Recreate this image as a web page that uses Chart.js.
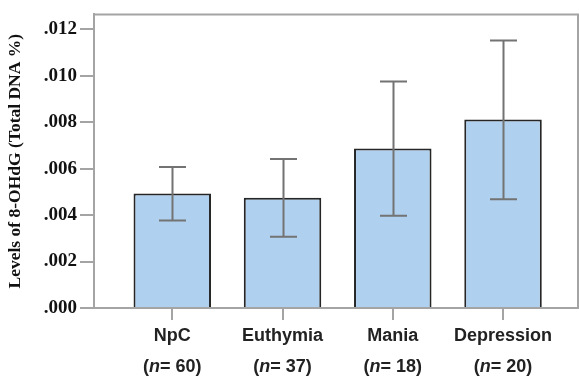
<!DOCTYPE html>
<html>
<head>
<meta charset="utf-8">
<script src="https://cdn.jsdelivr.net/npm/chart.js@4/dist/chart.umd.min.js"></script>
<style>
  html, body { margin: 0; padding: 0; background: #fff; }
  #wrap { width: 579px; height: 378px; }
</style>
</head>
<body>
<div id="wrap"><canvas id="c" width="579" height="378"></canvas></div>
<script>
// Groups, sample sizes and 8-OHdG levels (mean with 95% CI)
const categories = ['NpC', 'Euthymia', 'Mania', 'Depression'];
const sampleSizes = [60, 37, 18, 20];
const means = [0.00493, 0.00475, 0.00687, 0.00812];
const ciLow = [0.00377, 0.00307, 0.00397, 0.00469];
const ciHigh = [0.00608, 0.00642, 0.00976, 0.01153];
const yTicks = [0, 0.002, 0.004, 0.006, 0.008, 0.010, 0.012];

const frameColor = '#a4a4a4';

// Error bars drawn on top of the bars
const errorBars = {
  id: 'errorBars',
  afterDatasetsDraw(chart) {
    const { ctx, scales: { x, y } } = chart;
    ctx.save();
    ctx.strokeStyle = '#737373';
    ctx.lineWidth = 2;
    const cap = 13.5;
    categories.forEach((c, i) => {
      const px = Math.round(x.getPixelForValue(i)) + 0.5;
      const lo = y.getPixelForValue(ciLow[i]);
      const hi = y.getPixelForValue(ciHigh[i]);
      ctx.beginPath();
      ctx.moveTo(px, hi); ctx.lineTo(px, lo);
      ctx.moveTo(px - cap, hi); ctx.lineTo(px + cap, hi);
      ctx.moveTo(px - cap, lo); ctx.lineTo(px + cap, lo);
      ctx.stroke();
    });
    ctx.restore();
  }
};

// Top and right edges of the plot frame
const frame = {
  id: 'frame',
  afterDraw(chart) {
    const { ctx, chartArea: a } = chart;
    ctx.save();
    ctx.strokeStyle = frameColor;
    ctx.lineWidth = 2;
    ctx.beginPath();
    ctx.moveTo(a.left, a.top);
    ctx.lineTo(a.right, a.top);
    ctx.lineTo(a.right, a.bottom);
    ctx.stroke();
    ctx.restore();
  }
};

// Second line of each group label: sample size with italic n
const sizeLabels = {
  id: 'sizeLabels',
  afterDraw(chart) {
    const { ctx, scales: { x } } = chart;
    ctx.save();
    ctx.fillStyle = '#222';
    ctx.textBaseline = 'middle';
    ctx.textAlign = 'left';
    const yy = 367;
    const fNormal = 'bold 18px "Liberation Sans", Arial, sans-serif';
    const fItalic = 'italic bold 18px "Liberation Sans", Arial, sans-serif';
    categories.forEach((c, i) => {
      const parts = [['(', fNormal], ['n', fItalic], ['= ' + sampleSizes[i] + ')', fNormal]];
      let w = 0;
      parts.forEach(p => { ctx.font = p[1]; w += ctx.measureText(p[0]).width; });
      let px = x.getPixelForValue(i) - w / 2;
      parts.forEach(p => {
        ctx.font = p[1];
        ctx.fillText(p[0], px, yy);
        px += ctx.measureText(p[0]).width;
      });
    });
    ctx.restore();
  }
};

new Chart(document.getElementById('c'), {
  type: 'bar',
  data: {
    datasets: [{
      data: means.map((m, i) => ({ x: i, y: m })),
      backgroundColor: '#afd0ef',
      borderColor: '#262626',
      borderWidth: 2,
      borderSkipped: 'bottom',
      barPercentage: 0.703,
      categoryPercentage: 1
    }]
  },
  options: {
    responsive: false,
    devicePixelRatio: 1,
    animation: false,
    layout: { padding: { top: 14, right: 1, left: 0, bottom: 0 } },
    plugins: { legend: { display: false }, tooltip: { enabled: false } },
    scales: {
      x: {
        type: 'linear',
        min: -0.71,
        max: 3.68,
        offset: false,
        afterBuildTicks(scale) { scale.ticks = categories.map((c, i) => ({ value: i })); },
        afterFit(scale) { scale.height = 70; },
        ticks: {
          autoSkip: false,
          maxRotation: 0,
          padding: 5,
          color: '#222',
          font: { family: '"Liberation Sans", Arial, sans-serif', size: 18, weight: 'bold' },
          callback: (v) => categories[v]
        },
        grid: { offset: false, drawOnChartArea: false, drawTicks: true, tickLength: 12, color: frameColor, lineWidth: 2 },
        border: { display: true, color: frameColor, width: 2 }
      },
      y: {
        min: 0,
        max: 0.01265,
        afterBuildTicks(scale) { scale.ticks = yTicks.map(v => ({ value: v })); },
        afterFit(scale) { scale.width = 94; },
        ticks: {
          padding: 3,
          color: '#111',
          font: { family: '"Liberation Serif", "Times New Roman", serif', size: 19, weight: 'bold' },
          callback: (v) => v.toFixed(3).replace(/^0/, '')
        },
        grid: { drawOnChartArea: false, drawTicks: true, tickLength: 14, color: frameColor, lineWidth: 2 },
        border: { display: true, color: frameColor, width: 2 },
        title: {
          display: true,
          text: 'Levels of 8-OHdG (Total DNA %)',
          color: '#111',
          padding: { top: 5, bottom: 0 },
          font: { family: '"Liberation Serif", "Times New Roman", serif', size: 17.5, weight: 'bold' }
        }
      }
    }
  },
  plugins: [errorBars, frame, sizeLabels]
});
</script>
</body>
</html>
